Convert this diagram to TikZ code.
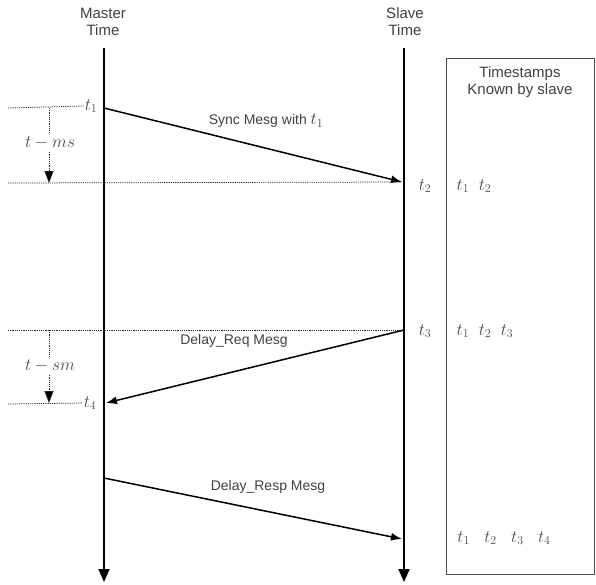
\documentclass[tikz,border=0pt]{standalone}
\usepackage{fontspec}
\setmainfont{Liberation Sans}
\usetikzlibrary{arrows.meta}
\begin{document}
\begin{tikzpicture}[x=1pt,y=-1pt,
  lbl/.style={font=\fontsize{14}{17}\selectfont, text=black!75, align=center, inner sep=1pt},
  ttl/.style={font=\fontsize{15}{17}\selectfont, text=black!75, align=center, inner sep=1pt},
  tl/.style={font=\fontsize{17}{18}\selectfont, text=black!70, inner sep=1pt},
  timeline/.style={line width=1.7pt, -{Triangle[width=11pt,length=13pt]}},
  msg/.style={line width=1.5pt, -{Latex[width=8pt,length=11pt]}},
  dotline/.style={dash pattern=on 1.2pt off 1pt, line width=0.75pt, draw=black!85},
  dotarrow/.style={dotline, -{Triangle[width=9pt,length=12pt,fill=black]}}
]
\useasboundingbox (0,0) rectangle (596,584);

% time lines
\node[ttl] (mlab) at (103,22) {Master\\Time};
\node[ttl] (slab) at (405,22) {Slave\\Time};
\coordinate (mtop) at (104,48);
\coordinate (mbot) at (104,582);
\coordinate (stop) at (404,48);
\coordinate (sbot) at (404,582);
\draw[timeline] (mtop) -- (mbot);
\draw[timeline] (stop) -- (sbot);

% box
\node[draw=black!70, line width=1pt, minimum width=148pt, minimum height=516pt, anchor=north west, inner sep=0pt] (box) at (446,58) {};
\node[ttl] (boxtitle) at (520,82) {Timestamps\\Known by slave};

% sync message
\coordinate (m1) at (104,108);
\coordinate (s2) at (402,182);
\node[tl] (t1m) at (91,106) {$t_1$};
\coordinate (d1a) at (8,108);
\draw[dotline] (d1a) -- (t1m.west);
\coordinate (d2a) at (8,183);
\draw[dotline] (d2a) -- (s2);
\draw[msg] (m1) -- (s2);
\node[lbl] (synclbl) at (266,121) {Sync Mesg with \fontsize{17}{18}\selectfont$t_1$};
\node[tl] (t2s) at (425,186) {$t_2$};

\coordinate (v1top) at (49,108);
\coordinate (v1bot) at (49,183);
\node[tl, fill=white, inner sep=3pt] (ms) at (50,143) {$t-ms$};
\draw[dotline] (v1top) -- (v1top |- ms.north);
\draw[dotarrow] (v1top |- ms.south) -- (v1bot);

% delay req
\coordinate (s3) at (404,330);
\coordinate (m4) at (106,403);
\coordinate (d3a) at (8,330);
\draw[dotline] (d3a) -- (s3);
\draw[msg] (s3) -- (m4);
\node[lbl] (reqlbl) at (234,341) {Delay\_Req Mesg};
\node[tl] (t3s) at (425,331) {$t_3$};
\node[tl] (t4m) at (90,403) {$t_4$};
\coordinate (d4a) at (8,404);
\draw[dotline] (d4a) -- (t4m.west);

\coordinate (v2top) at (49,330);
\coordinate (v2bot) at (49,403);
\node[tl, fill=white, inner sep=3pt] (sm) at (50,366) {$t-sm$};
\draw[dotline] (v2top) -- (v2top |- sm.north);
\draw[dotarrow] (v2top |- sm.south) -- (v2bot);

% delay resp
\coordinate (m5) at (104,478);
\coordinate (s6) at (402,539);
\draw[msg] (m5) -- (s6);
\node[lbl] (resplbl) at (268,487) {Delay\_Resp Mesg};

% timestamps known
\node[tl] (k1) at (474,186) {$t_1\;\;t_2$};
\node[tl] (k2) at (485,331) {$t_1\;\;t_2\;\;t_3$};
\node[tl] (k3) at (504,538) {$t_1\;\;\;t_2\;\;\;t_3\;\;\;t_4$};
\end{tikzpicture}
\end{document}
